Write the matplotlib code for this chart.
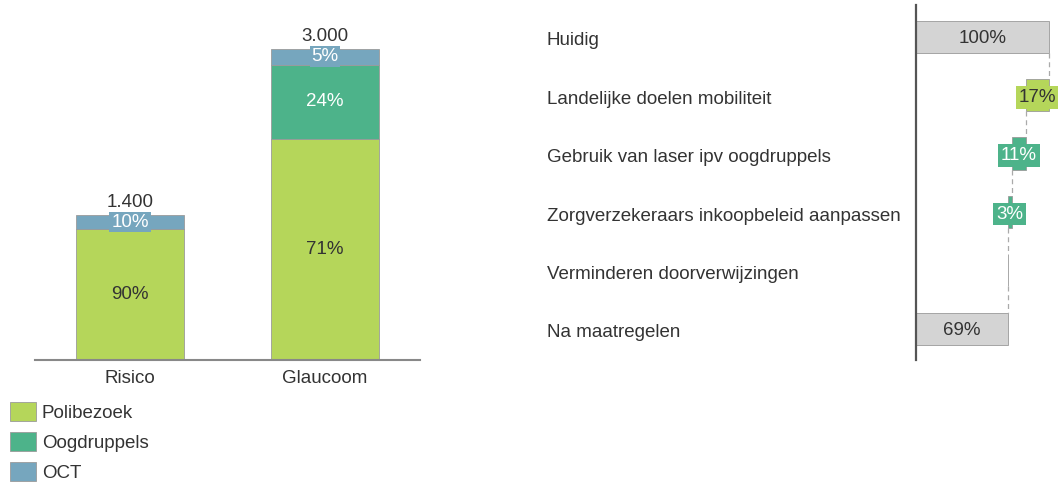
import numpy as np
import matplotlib.pyplot as plt

plt.rcParams['font.family'] = ['Liberation Sans', 'DejaVu Sans']
plt.rcParams['font.size'] = 13.5

# Data - left: stacked bars
groups = ['Risico', 'Glaucoom']
totals = [1400, 3000]
total_labels = ['1.400', '3.000']
series = ['Polibezoek', 'Oogdruppels', 'OCT']
shares = {
    'Polibezoek': [90, 71],
    'Oogdruppels': [0, 24],
    'OCT': [10, 5],
}

# Data - right: waterfall
steps = ['Huidig', 'Landelijke doelen mobiliteit', 'Gebruik van laser ipv oogdruppels',
         'Zorgverzekeraars inkoopbeleid aanpassen', 'Verminderen doorverwijzingen', 'Na maatregelen']
step_values = [100, -17, -11, -3, 0, 69]

col = {'Polibezoek': '#B5D65A', 'Oogdruppels': '#4DB38A', 'OCT': '#76A6BE'}
grey_bar = '#D4D4D4'
edge = '#9A9A9A'
txt = '#333333'
fs = 13.5

W, H = 1058, 484
fig = plt.figure(figsize=(W / 100, H / 100), dpi=100)

def px_axes(x0, y0, x1, y1):
    return fig.add_axes([x0 / W, 1 - y1 / H, (x1 - x0) / W, (y1 - y0) / H])

# ---- left stacked bar chart
ax = px_axes(35, 10, 420, 360)
x = np.arange(len(groups))
bottom = np.zeros(len(groups))
for s in series:
    vals = np.array(totals) * np.array(shares[s]) / 100
    ax.bar(x, vals, 0.554, bottom=bottom, color=col[s], edgecolor=edge, linewidth=0.6, label=s)
    for i, v in enumerate(vals):
        if v == 0:
            continue
        cy = bottom[i] + v / 2
        pct = f'{shares[s][i]}%'
        if s == 'OCT':
            ax.text(x[i], cy, pct, ha='center', va='center', color='white', fontsize=fs,
                    bbox=dict(boxstyle='square,pad=0.1', fc=col[s], ec='none'))
        elif s == 'Oogdruppels':
            ax.text(x[i], cy, pct, ha='center', va='center', color='white', fontsize=fs)
        else:
            ax.text(x[i], cy, pct, ha='center', va='center', color=txt, fontsize=fs)
    bottom += vals

for i, t in enumerate(totals):
    ax.text(x[i], t + 35, total_labels[i], ha='center', va='bottom', color=txt, fontsize=fs)

ax.set_xlim(-0.487, 1.487)
ax.set_ylim(0, 3376)
ax.set_xticks(x)
ax.set_xticklabels(groups, color=txt)
ax.tick_params(axis='x', length=0, pad=7)
ax.set_yticks([])
for sp in ['top', 'left', 'right']:
    ax.spines[sp].set_visible(False)
ax.spines['bottom'].set_color('#888888')
ax.spines['bottom'].set_linewidth(1.5)

fig.legend(loc='upper left', bbox_to_anchor=(10 / W, 1 - 402 / H), frameon=False,
           handlelength=1.4, handleheight=1.15, handletextpad=0.3, labelspacing=0.55,
           borderpad=0, borderaxespad=0, fontsize=fs, labelcolor=txt)

# ---- right waterfall chart
ax2 = px_axes(916, 5, 1058, 360)
y = np.arange(len(steps))
running = 0
lefts, widths = [], []
for i, v in enumerate(step_values):
    if i == 0 or i == len(step_values) - 1:
        lefts.append(0)
        widths.append(v)
        running = v
    else:
        running += v
        lefts.append(running)
        widths.append(-v)

bar_cols = [grey_bar, col['Polibezoek'], col['Oogdruppels'], col['Oogdruppels'], grey_bar, grey_bar]
bh = 0.55
ax2.barh(y - 0.04, widths, bh, left=lefts, color=bar_cols, edgecolor=edge, linewidth=0.6, clip_on=False)

# connectors
for i in range(len(steps) - 1):
    xc = lefts[i] + widths[i] if i == 0 else lefts[i]
    ax2.plot([xc, xc], [y[i] - 0.04 + bh / 2, y[i + 1] - 0.04 - bh / 2], ls=(0, (4, 3)),
             color='#AAAAAA', lw=0.9, clip_on=False)

for i, v in enumerate(step_values):
    cx = lefts[i] + widths[i] / 2
    if i in (0, len(steps) - 1):
        ax2.text(cx, y[i], f'{v}%', ha='center', va='center', color=txt, fontsize=fs)
    elif v != 0:
        tc = txt if i == 1 else 'white'
        ax2.text(cx, y[i], f'{-v}%', ha='center', va='center', color=tc, fontsize=fs, clip_on=False,
                 bbox=dict(boxstyle='square,pad=0.15', fc=bar_cols[i], ec='none'))

ax2.set_xlim(0, 106.8)
ax2.set_ylim(5.497, -0.582)
ax2.set_xticks([])
ax2.set_yticks(y)
ax2.set_yticklabels(steps, color=txt)
ax2.tick_params(axis='y', length=0, pad=369 * 0.72)
for lbl in ax2.get_yticklabels():
    lbl.set_ha('left')
for sp in ['top', 'bottom', 'right']:
    ax2.spines[sp].set_visible(False)
ax2.spines['left'].set_color('#555555')
ax2.spines['left'].set_linewidth(1.6)

fig.savefig('out.png', dpi=100)
